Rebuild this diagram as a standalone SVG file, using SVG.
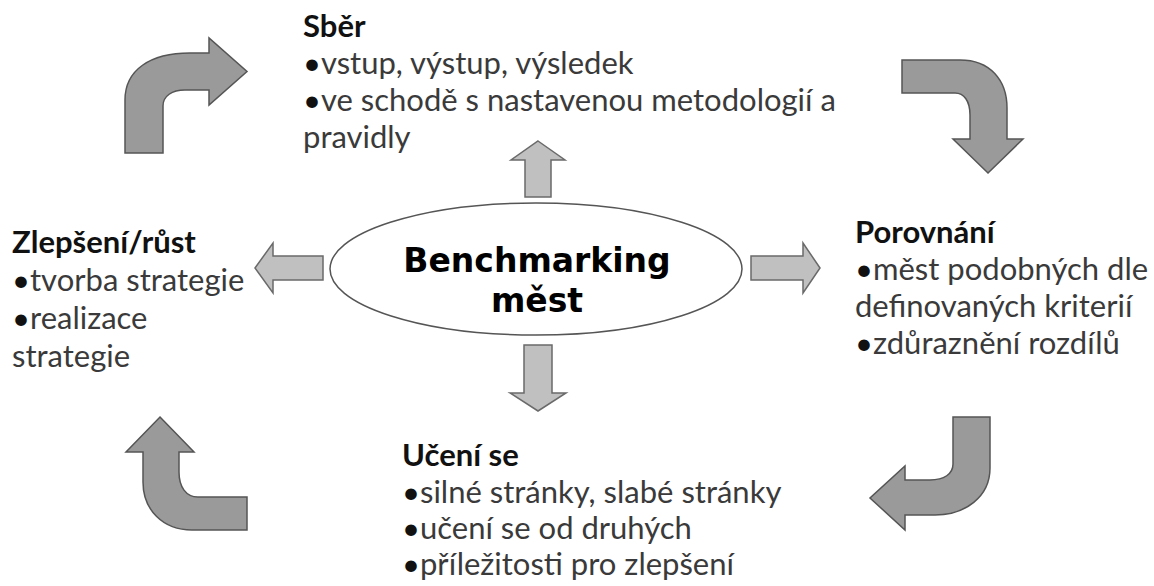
<svg xmlns="http://www.w3.org/2000/svg" width="1154" height="586" viewBox="0 0 1154 586">
<style>
.curved{fill:#9a9a9a;stroke:#555;stroke-width:1.5;stroke-linejoin:miter}
.straight{fill:#c0c0c0;stroke:#6a6a6a;stroke-width:1.5}
.h{font-family:Lato,"Liberation Sans",sans-serif;font-weight:700;font-size:31px;fill:#111}
.b{font-family:Lato,"Liberation Sans",sans-serif;font-size:31px;fill:#3a3a3a}
.d{fill:#111}
.c{font-family:"DejaVu Sans",Verdana,sans-serif;font-weight:700;font-size:33px;fill:#000;text-anchor:middle}
</style>
<rect width="1154" height="586" fill="#fff"/>
<g id="connectors">
<path class="curved" d="M125,153 L125,100 C125,70 150,53 190,53 L209,53 L209,38 L247,71.5 L209,105 L209,90 L185,90 C172,90 163,96 163,106 L163,153 Z"/>
<path class="curved" d="M902,60 L960,60 C990,60 1007,80 1007,108 L1007,139 L1023,139 L988,173 L953,139 L970,139 L970,115 C970,101 964,93 955,93 L902,93 Z"/>
<path class="curved" d="M953,417 L990,417 L990,468 C990,497 965,515 935,515 L905,515 L905,530 L870,498 L905,466 L905,480 L930,480 C944,480 953,474 953,464 Z"/>
<path class="curved" d="M160,417 L194,452 L179,452 L179,472 C179,487 186,497 198,497 L247,497 L247,530 L192,530 C163,530 143,510 143,482 L143,452 L126,452 Z"/>
<path class="straight" d="M255,268 L273,243 L273,256 L323,256 L323,280 L273,280 L273,293 Z"/>
<path class="straight" d="M820,268 L803,243 L803,256 L751,256 L751,280 L803,280 L803,293 Z"/>
<path class="straight" d="M538,141 L565,160 L551,160 L551,197 L525,197 L525,160 L511,160 Z"/>
<path class="straight" d="M538,411 L566,393 L552,393 L552,345 L524,345 L524,393 L510,393 Z"/>
</g>
<g id="center">
<ellipse cx="536" cy="269" rx="206" ry="66" fill="#fff" stroke="#555" stroke-width="1.5"/>
<text class="c" x="537" y="272">Benchmarking</text>
<text class="c" x="537" y="312">měst</text>
</g>
<g id="sber">
<text class="h" x="303" y="37">Sběr</text>
<text class="b" x="303" y="74"><tspan class="d">•</tspan>vstup, výstup, výsledek</text>
<text class="b" x="303" y="111"><tspan class="d">•</tspan>ve schodě s nastavenou metodologií a</text>
<text class="b" x="303" y="148">pravidly</text>
</g>
<g id="porovnani">
<text class="h" x="855" y="243">Porovnání</text>
<text class="b" x="855" y="280"><tspan class="d">•</tspan>měst podobných dle</text>
<text class="b" x="855" y="317">definovaných kriterií</text>
<text class="b" x="855" y="354"><tspan class="d">•</tspan>zdůraznění rozdílů</text>
</g>
<g id="uceni">
<text class="h" x="402" y="466">Učení se</text>
<text class="b" x="402" y="503"><tspan class="d">•</tspan>silné stránky, slabé stránky</text>
<text class="b" x="402" y="539"><tspan class="d">•</tspan>učení se od druhých</text>
<text class="b" x="402" y="575"><tspan class="d">•</tspan>příležitosti pro zlepšení</text>
</g>
<g id="zlepseni">
<text class="h" x="12" y="253">Zlepšení/růst</text>
<text class="b" x="12" y="291"><tspan class="d">•</tspan>tvorba strategie</text>
<text class="b" x="12" y="329"><tspan class="d">•</tspan>realizace</text>
<text class="b" x="12" y="367">strategie</text>
</g>
</svg>
